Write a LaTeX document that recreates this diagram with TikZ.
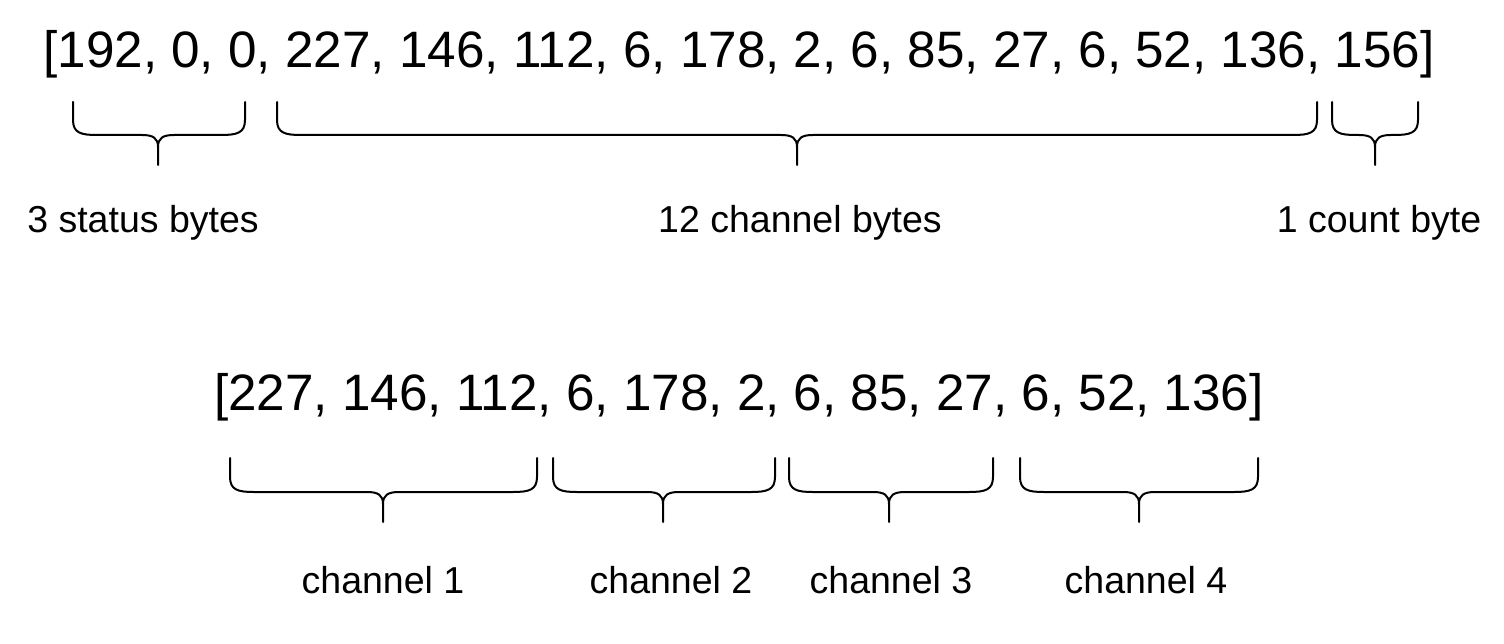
\documentclass[tikz,border=0pt]{standalone}
\usepackage{fontspec}
\setmainfont{Liberation Sans}
\tikzset{
  bracepath/.style={line width=2pt, line cap=round, line join=round, draw=black},
  arr/.style={font=\fontsize{51.2}{60}\selectfont, inner sep=0pt, anchor=base},
  lbl/.style={font=\fontsize{37.5}{45}\selectfont, inner sep=0pt, anchor=base},
}
% #1 left x, #2 tip x, #3 right x, #4 top y, #5 horizontal y, #6 tip y
\newcommand\mybrace[6]{%
  \draw[bracepath] (#1,#4) -- (#1,#5-15) .. controls (#1,#5-2) and (#1+8,#5) .. (#1+24,#5)
    -- (#2-16,#5) .. controls (#2-5,#5) and (#2,#5+3) .. (#2,#5+12) -- (#2,#6);
  \draw[bracepath] (#3,#4) -- (#3,#5-15) .. controls (#3,#5-2) and (#3-8,#5) .. (#3-24,#5)
    -- (#2+16,#5) .. controls (#2+5,#5) and (#2,#5+3) .. (#2,#5+12);
}
\begin{document}
\begin{tikzpicture}[x=1pt,y=-1pt]
\useasboundingbox (0,0) rectangle (1504,644);
% top array
\node[arr] (top) at (739,68) {[192, 0, 0, 227, 146, 112, 6, 178, 2, 6, 85, 27, 6, 52, 136, 156]};
\mybrace{73}{158}{245}{102}{135}{165}
\mybrace{277}{797}{1317}{102}{135}{165}
\mybrace{1332}{1375}{1418}{102}{135}{165}
\node[lbl] (l1) at (143,233) {3 status bytes};
\node[lbl] (l2) at (800,233) {12 channel bytes};
\node[lbl] (l3) at (1379,233) {1 count byte};
% bottom array
\node[arr] (bot) at (739,410) {[227, 146, 112, 6, 178, 2, 6, 85, 27, 6, 52, 136]};
\mybrace{230}{383}{537}{458}{492}{522}
\mybrace{553}{663}{775}{458}{492}{522}
\mybrace{789}{889}{993}{458}{492}{522}
\mybrace{1020}{1139}{1258}{458}{492}{522}
\node[lbl] (c1) at (383,593) {channel 1};
\node[lbl] (c2) at (671,593) {channel 2};
\node[lbl] (c3) at (891,593) {channel 3};
\node[lbl] (c4) at (1146,593) {channel 4};
\end{tikzpicture}
\end{document}
